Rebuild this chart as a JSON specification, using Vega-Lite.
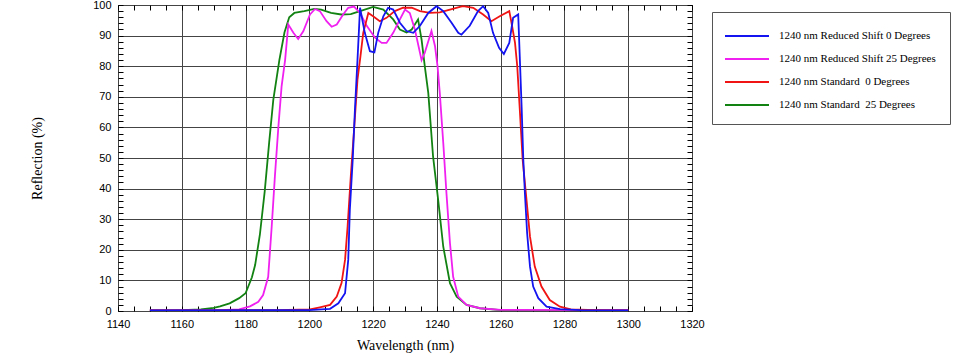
{
  "$schema": "https://vega.github.io/schema/vega-lite/v6.json",
  "autosize": {"type": "none"},
  "width": 574,
  "height": 306,
  "padding": {"left": 118, "top": 5, "right": 275, "bottom": 53},
  "background": "white",
  "config": {
    "view": {"stroke": "#000", "strokeWidth": 1},
    "axis": {"labelFont": "Liberation Sans", "labelFontSize": 11, "labelColor": "#000", "titleFont": "Liberation Serif", "titleFontSize": 14, "titleFontWeight": "normal", "titleColor": "#000", "domain": false, "tickColor": "#000"}
  },
  "data": {"values": [
    {"series": "1240 nm Standard \u00a025 Degrees", "wavelength": 1150, "reflection": 0.2},
    {"series": "1240 nm Standard \u00a025 Degrees", "wavelength": 1160, "reflection": 0.3},
    {"series": "1240 nm Standard \u00a025 Degrees", "wavelength": 1166, "reflection": 0.5},
    {"series": "1240 nm Standard \u00a025 Degrees", "wavelength": 1170, "reflection": 1.0},
    {"series": "1240 nm Standard \u00a025 Degrees", "wavelength": 1172, "reflection": 1.5},
    {"series": "1240 nm Standard \u00a025 Degrees", "wavelength": 1175, "reflection": 2.5},
    {"series": "1240 nm Standard \u00a025 Degrees", "wavelength": 1178, "reflection": 4.2},
    {"series": "1240 nm Standard \u00a025 Degrees", "wavelength": 1180, "reflection": 5.8},
    {"series": "1240 nm Standard \u00a025 Degrees", "wavelength": 1182, "reflection": 11},
    {"series": "1240 nm Standard \u00a025 Degrees", "wavelength": 1183, "reflection": 15},
    {"series": "1240 nm Standard \u00a025 Degrees", "wavelength": 1184.5, "reflection": 25},
    {"series": "1240 nm Standard \u00a025 Degrees", "wavelength": 1186, "reflection": 39},
    {"series": "1240 nm Standard \u00a025 Degrees", "wavelength": 1187.4, "reflection": 55},
    {"series": "1240 nm Standard \u00a025 Degrees", "wavelength": 1188.7, "reflection": 69},
    {"series": "1240 nm Standard \u00a025 Degrees", "wavelength": 1190.6, "reflection": 82},
    {"series": "1240 nm Standard \u00a025 Degrees", "wavelength": 1192.2, "reflection": 91},
    {"series": "1240 nm Standard \u00a025 Degrees", "wavelength": 1193.7, "reflection": 96},
    {"series": "1240 nm Standard \u00a025 Degrees", "wavelength": 1195.3, "reflection": 97.4},
    {"series": "1240 nm Standard \u00a025 Degrees", "wavelength": 1198.4, "reflection": 98},
    {"series": "1240 nm Standard \u00a025 Degrees", "wavelength": 1201.6, "reflection": 98.7},
    {"series": "1240 nm Standard \u00a025 Degrees", "wavelength": 1203.7, "reflection": 98.5},
    {"series": "1240 nm Standard \u00a025 Degrees", "wavelength": 1206.8, "reflection": 97.4},
    {"series": "1240 nm Standard \u00a025 Degrees", "wavelength": 1210, "reflection": 96.9},
    {"series": "1240 nm Standard \u00a025 Degrees", "wavelength": 1213, "reflection": 97},
    {"series": "1240 nm Standard \u00a025 Degrees", "wavelength": 1215.9, "reflection": 98},
    {"series": "1240 nm Standard \u00a025 Degrees", "wavelength": 1220, "reflection": 99.4},
    {"series": "1240 nm Standard \u00a025 Degrees", "wavelength": 1223.2, "reflection": 98.5},
    {"series": "1240 nm Standard \u00a025 Degrees", "wavelength": 1226.3, "reflection": 95.3},
    {"series": "1240 nm Standard \u00a025 Degrees", "wavelength": 1228.4, "reflection": 92},
    {"series": "1240 nm Standard \u00a025 Degrees", "wavelength": 1230.5, "reflection": 91},
    {"series": "1240 nm Standard \u00a025 Degrees", "wavelength": 1232.1, "reflection": 92},
    {"series": "1240 nm Standard \u00a025 Degrees", "wavelength": 1234.1, "reflection": 95.3},
    {"series": "1240 nm Standard \u00a025 Degrees", "wavelength": 1235.2, "reflection": 88.7},
    {"series": "1240 nm Standard \u00a025 Degrees", "wavelength": 1236.2, "reflection": 80},
    {"series": "1240 nm Standard \u00a025 Degrees", "wavelength": 1237.3, "reflection": 71.3},
    {"series": "1240 nm Standard \u00a025 Degrees", "wavelength": 1238.8, "reflection": 50.5},
    {"series": "1240 nm Standard \u00a025 Degrees", "wavelength": 1240.4, "reflection": 36.3},
    {"series": "1240 nm Standard \u00a025 Degrees", "wavelength": 1242, "reflection": 21},
    {"series": "1240 nm Standard \u00a025 Degrees", "wavelength": 1244.1, "reflection": 9.1},
    {"series": "1240 nm Standard \u00a025 Degrees", "wavelength": 1246.2, "reflection": 4.7},
    {"series": "1240 nm Standard \u00a025 Degrees", "wavelength": 1249.3, "reflection": 2},
    {"series": "1240 nm Standard \u00a025 Degrees", "wavelength": 1253.5, "reflection": 0.9},
    {"series": "1240 nm Standard \u00a025 Degrees", "wavelength": 1260, "reflection": 0.3},
    {"series": "1240 nm Standard \u00a025 Degrees", "wavelength": 1280, "reflection": 0.2},
    {"series": "1240 nm Standard \u00a025 Degrees", "wavelength": 1300, "reflection": 0.2},

    {"series": "1240 nm Reduced Shift 25 Degrees", "wavelength": 1150, "reflection": 0.2},
    {"series": "1240 nm Reduced Shift 25 Degrees", "wavelength": 1170, "reflection": 0.2},
    {"series": "1240 nm Reduced Shift 25 Degrees", "wavelength": 1178, "reflection": 0.5},
    {"series": "1240 nm Reduced Shift 25 Degrees", "wavelength": 1181.4, "reflection": 1.5},
    {"series": "1240 nm Reduced Shift 25 Degrees", "wavelength": 1184, "reflection": 3},
    {"series": "1240 nm Reduced Shift 25 Degrees", "wavelength": 1185.5, "reflection": 5.2},
    {"series": "1240 nm Reduced Shift 25 Degrees", "wavelength": 1187.1, "reflection": 11.2},
    {"series": "1240 nm Reduced Shift 25 Degrees", "wavelength": 1188.2, "reflection": 27.6},
    {"series": "1240 nm Reduced Shift 25 Degrees", "wavelength": 1189.2, "reflection": 44},
    {"series": "1240 nm Reduced Shift 25 Degrees", "wavelength": 1190.3, "reflection": 60.3},
    {"series": "1240 nm Reduced Shift 25 Degrees", "wavelength": 1191.3, "reflection": 73.4},
    {"series": "1240 nm Reduced Shift 25 Degrees", "wavelength": 1192.4, "reflection": 82},
    {"series": "1240 nm Reduced Shift 25 Degrees", "wavelength": 1193.4, "reflection": 93.6},
    {"series": "1240 nm Reduced Shift 25 Degrees", "wavelength": 1195, "reflection": 90.9},
    {"series": "1240 nm Reduced Shift 25 Degrees", "wavelength": 1196.5, "reflection": 88.9},
    {"series": "1240 nm Reduced Shift 25 Degrees", "wavelength": 1198.1, "reflection": 91.4},
    {"series": "1240 nm Reduced Shift 25 Degrees", "wavelength": 1200.2, "reflection": 96.9},
    {"series": "1240 nm Reduced Shift 25 Degrees", "wavelength": 1201.8, "reflection": 98.7},
    {"series": "1240 nm Reduced Shift 25 Degrees", "wavelength": 1203.3, "reflection": 98},
    {"series": "1240 nm Reduced Shift 25 Degrees", "wavelength": 1205.4, "reflection": 94.7},
    {"series": "1240 nm Reduced Shift 25 Degrees", "wavelength": 1207, "reflection": 92.9},
    {"series": "1240 nm Reduced Shift 25 Degrees", "wavelength": 1208.6, "reflection": 93.6},
    {"series": "1240 nm Reduced Shift 25 Degrees", "wavelength": 1210.6, "reflection": 96.9},
    {"series": "1240 nm Reduced Shift 25 Degrees", "wavelength": 1212.2, "reflection": 99.1},
    {"series": "1240 nm Reduced Shift 25 Degrees", "wavelength": 1214, "reflection": 99.5},
    {"series": "1240 nm Reduced Shift 25 Degrees", "wavelength": 1215.9, "reflection": 97.4},
    {"series": "1240 nm Reduced Shift 25 Degrees", "wavelength": 1218, "reflection": 93.2},
    {"series": "1240 nm Reduced Shift 25 Degrees", "wavelength": 1220.6, "reflection": 89.3},
    {"series": "1240 nm Reduced Shift 25 Degrees", "wavelength": 1222.7, "reflection": 87.6},
    {"series": "1240 nm Reduced Shift 25 Degrees", "wavelength": 1224.2, "reflection": 87.6},
    {"series": "1240 nm Reduced Shift 25 Degrees", "wavelength": 1226.3, "reflection": 90.9},
    {"series": "1240 nm Reduced Shift 25 Degrees", "wavelength": 1228.4, "reflection": 95.3},
    {"series": "1240 nm Reduced Shift 25 Degrees", "wavelength": 1230, "reflection": 98.5},
    {"series": "1240 nm Reduced Shift 25 Degrees", "wavelength": 1231.5, "reflection": 97.4},
    {"series": "1240 nm Reduced Shift 25 Degrees", "wavelength": 1233.1, "reflection": 92},
    {"series": "1240 nm Reduced Shift 25 Degrees", "wavelength": 1235.2, "reflection": 82},
    {"series": "1240 nm Reduced Shift 25 Degrees", "wavelength": 1236.2, "reflection": 84.4},
    {"series": "1240 nm Reduced Shift 25 Degrees", "wavelength": 1238.3, "reflection": 91.5},
    {"series": "1240 nm Reduced Shift 25 Degrees", "wavelength": 1239.4, "reflection": 86.6},
    {"series": "1240 nm Reduced Shift 25 Degrees", "wavelength": 1240.2, "reflection": 80},
    {"series": "1240 nm Reduced Shift 25 Degrees", "wavelength": 1240.9, "reflection": 71.4},
    {"series": "1240 nm Reduced Shift 25 Degrees", "wavelength": 1242, "reflection": 54.9},
    {"series": "1240 nm Reduced Shift 25 Degrees", "wavelength": 1243, "reflection": 38.5},
    {"series": "1240 nm Reduced Shift 25 Degrees", "wavelength": 1244.1, "reflection": 22.2},
    {"series": "1240 nm Reduced Shift 25 Degrees", "wavelength": 1245.1, "reflection": 11.2},
    {"series": "1240 nm Reduced Shift 25 Degrees", "wavelength": 1246.7, "reflection": 4.7},
    {"series": "1240 nm Reduced Shift 25 Degrees", "wavelength": 1249.3, "reflection": 2},
    {"series": "1240 nm Reduced Shift 25 Degrees", "wavelength": 1253.5, "reflection": 0.9},
    {"series": "1240 nm Reduced Shift 25 Degrees", "wavelength": 1260, "reflection": 0.4},
    {"series": "1240 nm Reduced Shift 25 Degrees", "wavelength": 1300, "reflection": 0.3},

    {"series": "1240 nm Standard \u00a00 Degrees", "wavelength": 1150, "reflection": 0.2},
    {"series": "1240 nm Standard \u00a00 Degrees", "wavelength": 1190, "reflection": 0.3},
    {"series": "1240 nm Standard \u00a00 Degrees", "wavelength": 1200.2, "reflection": 0.5},
    {"series": "1240 nm Standard \u00a00 Degrees", "wavelength": 1203.3, "reflection": 1.2},
    {"series": "1240 nm Standard \u00a00 Degrees", "wavelength": 1206.5, "reflection": 2},
    {"series": "1240 nm Standard \u00a00 Degrees", "wavelength": 1208.6, "reflection": 4.7},
    {"series": "1240 nm Standard \u00a00 Degrees", "wavelength": 1210.1, "reflection": 9.1},
    {"series": "1240 nm Standard \u00a00 Degrees", "wavelength": 1211.2, "reflection": 16.7},
    {"series": "1240 nm Standard \u00a00 Degrees", "wavelength": 1212, "reflection": 27.6},
    {"series": "1240 nm Standard \u00a00 Degrees", "wavelength": 1213, "reflection": 44},
    {"series": "1240 nm Standard \u00a00 Degrees", "wavelength": 1214.1, "reflection": 60.3},
    {"series": "1240 nm Standard \u00a00 Degrees", "wavelength": 1215.1, "reflection": 75.6},
    {"series": "1240 nm Standard \u00a00 Degrees", "wavelength": 1216, "reflection": 83},
    {"series": "1240 nm Standard \u00a00 Degrees", "wavelength": 1216.9, "reflection": 90.9},
    {"series": "1240 nm Standard \u00a00 Degrees", "wavelength": 1218.5, "reflection": 97.4},
    {"series": "1240 nm Standard \u00a00 Degrees", "wavelength": 1220, "reflection": 96.3},
    {"series": "1240 nm Standard \u00a00 Degrees", "wavelength": 1222.1, "reflection": 94.7},
    {"series": "1240 nm Standard \u00a00 Degrees", "wavelength": 1224.2, "reflection": 95.8},
    {"series": "1240 nm Standard \u00a00 Degrees", "wavelength": 1226.8, "reflection": 98},
    {"series": "1240 nm Standard \u00a00 Degrees", "wavelength": 1229.4, "reflection": 99.1},
    {"series": "1240 nm Standard \u00a00 Degrees", "wavelength": 1232.1, "reflection": 99.1},
    {"series": "1240 nm Standard \u00a00 Degrees", "wavelength": 1234.7, "reflection": 98},
    {"series": "1240 nm Standard \u00a00 Degrees", "wavelength": 1237.8, "reflection": 97.4},
    {"series": "1240 nm Standard \u00a00 Degrees", "wavelength": 1240.9, "reflection": 97.6},
    {"series": "1240 nm Standard \u00a00 Degrees", "wavelength": 1244.1, "reflection": 98.5},
    {"series": "1240 nm Standard \u00a00 Degrees", "wavelength": 1247.2, "reflection": 99.4},
    {"series": "1240 nm Standard \u00a00 Degrees", "wavelength": 1248.2, "reflection": 99.6},
    {"series": "1240 nm Standard \u00a00 Degrees", "wavelength": 1251.4, "reflection": 99.1},
    {"series": "1240 nm Standard \u00a00 Degrees", "wavelength": 1254.5, "reflection": 96.9},
    {"series": "1240 nm Standard \u00a00 Degrees", "wavelength": 1257.1, "reflection": 94.7},
    {"series": "1240 nm Standard \u00a00 Degrees", "wavelength": 1259.7, "reflection": 96.3},
    {"series": "1240 nm Standard \u00a00 Degrees", "wavelength": 1262.7, "reflection": 98},
    {"series": "1240 nm Standard \u00a00 Degrees", "wavelength": 1263.4, "reflection": 94.2},
    {"series": "1240 nm Standard \u00a00 Degrees", "wavelength": 1264.5, "reflection": 87.6},
    {"series": "1240 nm Standard \u00a00 Degrees", "wavelength": 1265.2, "reflection": 80},
    {"series": "1240 nm Standard \u00a00 Degrees", "wavelength": 1266, "reflection": 65.8},
    {"series": "1240 nm Standard \u00a00 Degrees", "wavelength": 1266.9, "reflection": 49.4},
    {"series": "1240 nm Standard \u00a00 Degrees", "wavelength": 1267.9, "reflection": 38.5},
    {"series": "1240 nm Standard \u00a00 Degrees", "wavelength": 1269.2, "reflection": 24.3},
    {"series": "1240 nm Standard \u00a00 Degrees", "wavelength": 1270.7, "reflection": 14.5},
    {"series": "1240 nm Standard \u00a00 Degrees", "wavelength": 1272.8, "reflection": 8},
    {"series": "1240 nm Standard \u00a00 Degrees", "wavelength": 1275.4, "reflection": 3.6},
    {"series": "1240 nm Standard \u00a00 Degrees", "wavelength": 1278.6, "reflection": 1.4},
    {"series": "1240 nm Standard \u00a00 Degrees", "wavelength": 1282, "reflection": 0.5},
    {"series": "1240 nm Standard \u00a00 Degrees", "wavelength": 1290, "reflection": 0.3},
    {"series": "1240 nm Standard \u00a00 Degrees", "wavelength": 1300, "reflection": 0.2},

    {"series": "1240 nm Reduced Shift 0 Degrees", "wavelength": 1150, "reflection": 0.2},
    {"series": "1240 nm Reduced Shift 0 Degrees", "wavelength": 1200, "reflection": 0.3},
    {"series": "1240 nm Reduced Shift 0 Degrees", "wavelength": 1206.5, "reflection": 0.7},
    {"series": "1240 nm Reduced Shift 0 Degrees", "wavelength": 1209.1, "reflection": 2.5},
    {"series": "1240 nm Reduced Shift 0 Degrees", "wavelength": 1211.2, "reflection": 5.8},
    {"series": "1240 nm Reduced Shift 0 Degrees", "wavelength": 1212.2, "reflection": 16.7},
    {"series": "1240 nm Reduced Shift 0 Degrees", "wavelength": 1212.7, "reflection": 33},
    {"series": "1240 nm Reduced Shift 0 Degrees", "wavelength": 1213.6, "reflection": 49.4},
    {"series": "1240 nm Reduced Shift 0 Degrees", "wavelength": 1214.3, "reflection": 65.8},
    {"series": "1240 nm Reduced Shift 0 Degrees", "wavelength": 1215.1, "reflection": 82},
    {"series": "1240 nm Reduced Shift 0 Degrees", "wavelength": 1215.9, "reflection": 99.1},
    {"series": "1240 nm Reduced Shift 0 Degrees", "wavelength": 1217.4, "reflection": 90.9},
    {"series": "1240 nm Reduced Shift 0 Degrees", "wavelength": 1219, "reflection": 84.9},
    {"series": "1240 nm Reduced Shift 0 Degrees", "wavelength": 1220.4, "reflection": 84.5},
    {"series": "1240 nm Reduced Shift 0 Degrees", "wavelength": 1221.6, "reflection": 90.9},
    {"series": "1240 nm Reduced Shift 0 Degrees", "wavelength": 1223.2, "reflection": 96.3},
    {"series": "1240 nm Reduced Shift 0 Degrees", "wavelength": 1224.7, "reflection": 99.1},
    {"series": "1240 nm Reduced Shift 0 Degrees", "wavelength": 1226.3, "reflection": 98.5},
    {"series": "1240 nm Reduced Shift 0 Degrees", "wavelength": 1228.4, "reflection": 94.2},
    {"series": "1240 nm Reduced Shift 0 Degrees", "wavelength": 1230.5, "reflection": 91.5},
    {"series": "1240 nm Reduced Shift 0 Degrees", "wavelength": 1232.6, "reflection": 90.9},
    {"series": "1240 nm Reduced Shift 0 Degrees", "wavelength": 1234.7, "reflection": 93.2},
    {"series": "1240 nm Reduced Shift 0 Degrees", "wavelength": 1237.3, "reflection": 97.4},
    {"series": "1240 nm Reduced Shift 0 Degrees", "wavelength": 1239.9, "reflection": 99.6},
    {"series": "1240 nm Reduced Shift 0 Degrees", "wavelength": 1242, "reflection": 98},
    {"series": "1240 nm Reduced Shift 0 Degrees", "wavelength": 1244.6, "reflection": 94.2},
    {"series": "1240 nm Reduced Shift 0 Degrees", "wavelength": 1246.7, "reflection": 90.9},
    {"series": "1240 nm Reduced Shift 0 Degrees", "wavelength": 1247.7, "reflection": 90.3},
    {"series": "1240 nm Reduced Shift 0 Degrees", "wavelength": 1250.3, "reflection": 93.2},
    {"series": "1240 nm Reduced Shift 0 Degrees", "wavelength": 1252.9, "reflection": 98},
    {"series": "1240 nm Reduced Shift 0 Degrees", "wavelength": 1254.5, "reflection": 99.6},
    {"series": "1240 nm Reduced Shift 0 Degrees", "wavelength": 1256.1, "reflection": 97.4},
    {"series": "1240 nm Reduced Shift 0 Degrees", "wavelength": 1257.6, "reflection": 90.9},
    {"series": "1240 nm Reduced Shift 0 Degrees", "wavelength": 1259.5, "reflection": 86},
    {"series": "1240 nm Reduced Shift 0 Degrees", "wavelength": 1261, "reflection": 84},
    {"series": "1240 nm Reduced Shift 0 Degrees", "wavelength": 1262.7, "reflection": 87.6},
    {"series": "1240 nm Reduced Shift 0 Degrees", "wavelength": 1263.9, "reflection": 95.8},
    {"series": "1240 nm Reduced Shift 0 Degrees", "wavelength": 1265.5, "reflection": 96.9},
    {"series": "1240 nm Reduced Shift 0 Degrees", "wavelength": 1266.1, "reflection": 80},
    {"series": "1240 nm Reduced Shift 0 Degrees", "wavelength": 1266.6, "reflection": 65.8},
    {"series": "1240 nm Reduced Shift 0 Degrees", "wavelength": 1267.1, "reflection": 49.4},
    {"series": "1240 nm Reduced Shift 0 Degrees", "wavelength": 1267.6, "reflection": 38.5},
    {"series": "1240 nm Reduced Shift 0 Degrees", "wavelength": 1268.3, "reflection": 25.4},
    {"series": "1240 nm Reduced Shift 0 Degrees", "wavelength": 1269.2, "reflection": 14.5},
    {"series": "1240 nm Reduced Shift 0 Degrees", "wavelength": 1270.2, "reflection": 8},
    {"series": "1240 nm Reduced Shift 0 Degrees", "wavelength": 1271.8, "reflection": 4.2},
    {"series": "1240 nm Reduced Shift 0 Degrees", "wavelength": 1274.4, "reflection": 1.4},
    {"series": "1240 nm Reduced Shift 0 Degrees", "wavelength": 1278.6, "reflection": 0.6},
    {"series": "1240 nm Reduced Shift 0 Degrees", "wavelength": 1285, "reflection": 0.3},
    {"series": "1240 nm Reduced Shift 0 Degrees", "wavelength": 1300, "reflection": 0.2}
  ]},
  "layer": [
    {
      "mark": {"type": "line", "strokeWidth": 1.8, "clip": true},
      "encoding": {
        "x": {
          "field": "wavelength", "type": "quantitative",
          "scale": {"domain": [1140, 1320], "nice": false, "zero": false},
          "axis": {
            "orient": "bottom",
            "title": "Wavelength (nm)",
            "titleY": 34, "titleBaseline": "middle",
            "values": [1140,1145,1150,1155,1160,1165,1170,1175,1180,1185,1190,1195,1200,1205,1210,1215,1220,1225,1230,1235,1240,1245,1250,1255,1260,1265,1270,1275,1280,1285,1290,1295,1300,1305,1310,1315,1320],
            "labelExpr": "datum.value % 20 === 0 ? datum.label : ''",
            "format": "d",
            "tickSize": -5,
            "labelPadding": 12,
            "labelFlush": false,
            "labelOverlap": false,
            "grid": true,
            "gridColor": "#444",
            "gridOpacity": {"condition": {"test": "datum.value % 20 === 0", "value": 1}, "value": 0}
          }
        },
        "y": {
          "field": "reflection", "type": "quantitative",
          "scale": {"domain": [0, 100], "nice": false},
          "axis": {
            "orient": "left",
            "title": "Reflection (%)",
            "titleX": -81, "titleY": 153, "titleAngle": -90, "titleBaseline": "middle", "titleAlign": "center",
            "values": [0,2,4,6,8,10,12,14,16,18,20,22,24,26,28,30,32,34,36,38,40,42,44,46,48,50,52,54,56,58,60,62,64,66,68,70,72,74,76,78,80,82,84,86,88,90,92,94,96,98,100],
            "labelExpr": "datum.value % 10 === 0 ? datum.label : ''",
            "tickSize": -5,
            "labelPadding": 12,
            "labelFlush": false,
            "labelOverlap": false,
            "grid": true,
            "gridColor": "#444",
            "gridOpacity": {"condition": {"test": "datum.value % 10 === 0", "value": 1}, "value": 0}
          }
        },
        "color": {
          "field": "series", "type": "nominal",
          "scale": {
            "domain": ["1240 nm Reduced Shift 0 Degrees", "1240 nm Reduced Shift 25 Degrees", "1240 nm Standard \u00a00 Degrees", "1240 nm Standard \u00a025 Degrees"],
            "range": ["#1414f0", "#f020f0", "#f01414", "#128212"]
          },
          "legend": {
            "orient": "none", "legendX": 594, "legendY": 7,
            "title": null,
            "symbolType": "M-1.222,0H3.667", "symbolSize": 324, "symbolStrokeWidth": 2,
            "labelFont": "Liberation Serif", "labelFontSize": 11, "labelColor": "#000",
            "labelOffset": 33, "labelLimit": 300,
            "padding": 14, "rowPadding": 8,
            "strokeColor": "#555", "fillColor": "white"
          }
        }
      }
    },
    {
      "mark": {"type": "line", "strokeOpacity": 0},
      "encoding": {
        "x": {
          "field": "wavelength", "type": "quantitative",
          "axis": {
            "orient": "top", "title": null, "labels": false, "grid": false,
            "values": [1140,1145,1150,1155,1160,1165,1170,1175,1180,1185,1190,1195,1200,1205,1210,1215,1220,1225,1230,1235,1240,1245,1250,1255,1260,1265,1270,1275,1280,1285,1290,1295,1300,1305,1310,1315,1320],
            "tickSize": -5
          }
        },
        "y": {
          "field": "reflection", "type": "quantitative",
          "axis": {
            "orient": "right", "title": null, "labels": false, "grid": false,
            "values": [0,2,4,6,8,10,12,14,16,18,20,22,24,26,28,30,32,34,36,38,40,42,44,46,48,50,52,54,56,58,60,62,64,66,68,70,72,74,76,78,80,82,84,86,88,90,92,94,96,98,100],
            "tickSize": -5
          }
        },
        "detail": {"field": "series"}
      }
    }
  ],
  "resolve": {"axis": {"x": "independent", "y": "independent"}}
}
